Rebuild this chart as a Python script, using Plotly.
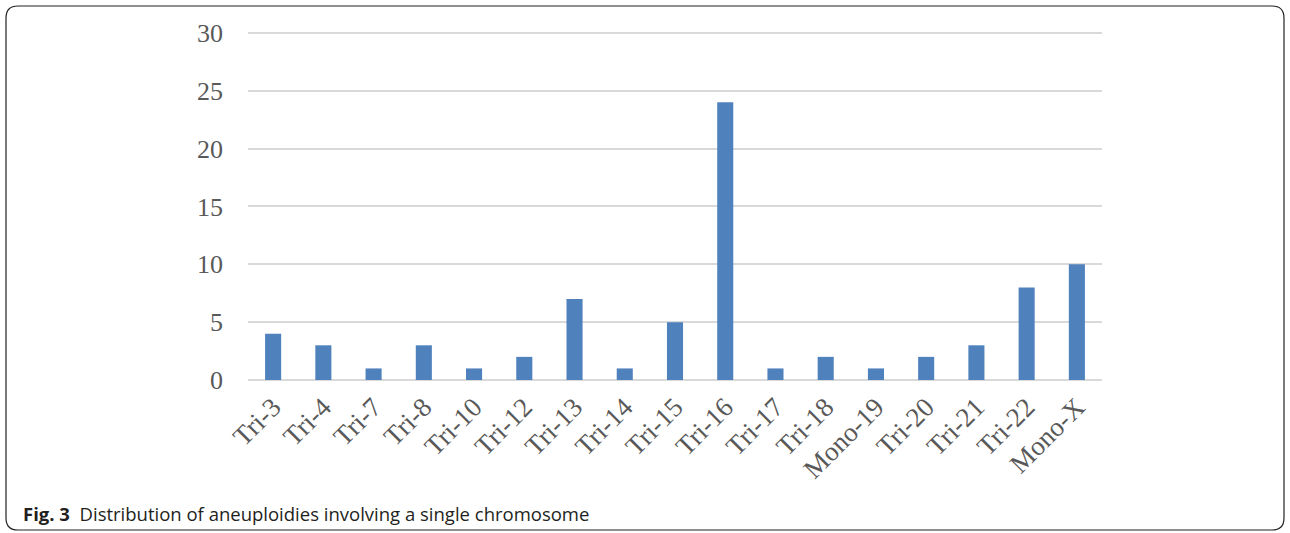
import plotly.graph_objects as go

categories = ["Tri-3", "Tri-4", "Tri-7", "Tri-8", "Tri-10", "Tri-12", "Tri-13", "Tri-14",
              "Tri-15", "Tri-16", "Tri-17", "Tri-18", "Mono-19", "Tri-20", "Tri-21",
              "Tri-22", "Mono-X"]
counts = [4, 3, 1, 3, 1, 2, 7, 1, 5, 24, 1, 2, 1, 2, 3, 8, 10]
y_ticks = [0, 5, 10, 15, 20, 25, 30]

W, H = 1290, 533
L, R, T, B = 248, 1102, 31, 380
Y_MAX = 30.17

fig = go.Figure(go.Bar(x=categories, y=counts, marker=dict(color="#4f81bd", line=dict(width=0)),
                       width=0.32))

def px_to_paper(x, y):
    return (x - L) / (R - L), (B - y) / (B - T)

def P(x, y):
    px, py = px_to_paper(x, y)
    return f"{px:.5f},{py:.5f}"

# rounded border box
x0, y0, x1, y1, r = 6, 6, 1284, 530, 12
path = (f"M {P(x0 + r, y0)} L {P(x1 - r, y0)} Q {P(x1, y0)} {P(x1, y0 + r)} "
        f"L {P(x1, y1 - r)} Q {P(x1, y1)} {P(x1 - r, y1)} "
        f"L {P(x0 + r, y1)} Q {P(x0, y1)} {P(x0, y1 - r)} "
        f"L {P(x0, y0 + r)} Q {P(x0, y0)} {P(x0 + r, y0)} Z")
fig.add_shape(type="path", path=path, xref="paper", yref="paper",
              line=dict(color="#222222", width=1.2), layer="above")

cx, cy = px_to_paper(21, 513)
fig.add_annotation(x=cx, y=cy, xref="paper", yref="paper", xanchor="left", yanchor="middle",
                   showarrow=False,
                   text="<b>Fig. 3</b>&nbsp;&nbsp;Distribution of aneuploidies involving a single chromosome",
                   font=dict(family="Open Sans, Noto Sans, sans-serif", size=18.5, color="#231f20"))

fig.update_layout(
    width=W, height=H,
    margin=dict(l=L, r=W - R, t=T, b=H - B, autoexpand=False),
    paper_bgcolor="white", plot_bgcolor="white",
    showlegend=False,
    font=dict(family="Liberation Serif, Times New Roman, serif", size=26, color="#595959"),
    xaxis=dict(tickangle=-45, showgrid=False, showline=False, ticks="", tickfont=dict(size=27),
               ticklabelstandoff=5),
    yaxis=dict(range=[0, Y_MAX], tickvals=y_ticks, showgrid=True, gridcolor="#d9d9d9", gridwidth=1.6,
               zeroline=True, zerolinecolor="#d9d9d9", zerolinewidth=1.6, showline=False,
               ticks="", ticklabelstandoff=24, tickfont=dict(size=26)),
)

fig.write_html("out.html", config={"displayModeBar": False},
               post_script="document.body.style.margin='0px';")
